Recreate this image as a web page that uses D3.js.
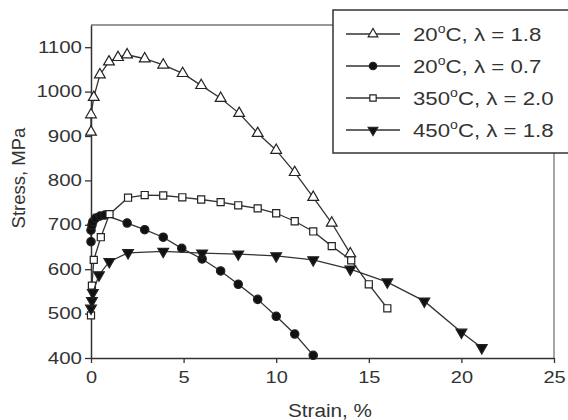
<!DOCTYPE html>
<html>
<head>
<meta charset="utf-8">
<script src="https://cdn.jsdelivr.net/npm/d3@7"></script>
<style>
  body { margin: 0; background: #fff; }
  svg text { font-family: "Liberation Sans", Arial, sans-serif; fill: #333; }
</style>
</head>
<body>
<div id="chart"></div>
<script>
// data
const xTicks = [0, 5, 10, 15, 20, 25];
const yTicks = [400, 500, 600, 700, 800, 900, 1000, 1100];

const strainA = [0, 0, 0.15, 0.48, 0.97, 1.46, 1.95, 2.9, 3.9, 4.95, 5.95, 7, 8, 9, 10, 11, 12, 13, 14];
const stressA = [909, 948, 987, 1038, 1067, 1077, 1083, 1074, 1060, 1041, 1014, 985, 951, 906, 868, 818, 762, 704, 635];

const strainB = [0, 0, 0.05, 0.1, 0.25, 0.5, 0.75, 1.95, 2.9, 3.9, 4.9, 6, 7, 7.95, 9, 10, 11, 12];
const stressB = [662, 688, 699, 707, 715, 720, 722, 704, 689, 672, 647, 623, 596, 566, 532, 494, 454, 406];

const strainC = [0, 0.05, 0.15, 0.53, 1, 2, 2.9, 3.9, 4.93, 5.95, 7, 7.95, 9, 10, 11, 12, 13, 14.05, 15, 16];
const stressC = [496, 563, 621, 672, 724, 761, 767, 766, 762, 757, 751, 744, 737, 726, 708, 685, 652, 620, 566, 512];

const strainD = [0, 0.05, 0.1, 0.43, 0.99, 2, 3.9, 6, 7.95, 10, 12, 14, 16, 18, 20, 21.1];
const stressD = [512, 529, 547, 587, 617, 637, 640, 636, 634, 630, 621, 600, 571, 528, 458, 423];

const legendLabels = [["20", "C, \u03bb = 1.8"], ["20", "C, \u03bb = 0.7"], ["350", "C, \u03bb = 2.0"], ["450", "C, \u03bb = 1.8"]];

const series = [
  { x: strainA, y: stressA, sym: d3.symbolTriangle, fill: "#fff", size: 50, rot: 0 },
  { x: strainB, y: stressB, sym: d3.symbolCircle, fill: "#111", size: 55, rot: 0 },
  { x: strainC, y: stressC, sym: d3.symbolSquare, fill: "#fff", size: 50, rot: 0 },
  { x: strainD, y: stressD, sym: d3.symbolTriangle, fill: "#111", size: 50, rot: 180 }
];

let dimensions = {
  width: 568,
  height: 420,
  margins: { top: 25, bottom: 62, left: 91, right: 14 }
};
dimensions.containerWidth = dimensions.width - dimensions.margins.left - dimensions.margins.right;
dimensions.containerHeight = dimensions.height - dimensions.margins.top - dimensions.margins.bottom;

const svg = d3.select("#chart")
  .append("svg")
  .attr("width", dimensions.width)
  .attr("height", dimensions.height);

const container = svg.append("g")
  .attr("transform", `translate(${dimensions.margins.left}, ${dimensions.margins.top})`);

const x = d3.scaleLinear().domain([0, 25]).range([0, dimensions.containerWidth]);
const y = d3.scaleLinear().domain([400, 1150]).range([dimensions.containerHeight, 0]);

// the source image is stretched sideways, so glyphs get widened a bit
function stretch(sel, k) {
  sel.each(function() {
    const w = this.getComputedTextLength();
    d3.select(this).attr("textLength", w * k).attr("lengthAdjust", "spacingAndGlyphs");
  });
}

// frame top and right
container.append("path")
  .attr("d", `M0,0H${dimensions.containerWidth}V${dimensions.containerHeight}`)
  .attr("fill", "none")
  .attr("stroke", "#777")
  .attr("stroke-width", 1.3);

// axes
const xAxis = container.append("g")
  .attr("transform", `translate(0, ${dimensions.containerHeight})`)
  .call(d3.axisBottom(x).tickValues(xTicks).tickSize(5).tickSizeOuter(0));
const yAxis = container.append("g")
  .call(d3.axisLeft(y).tickValues(yTicks).tickFormat(d3.format("d")).tickSize(6).tickSizeOuter(0));

[xAxis, yAxis].forEach(a => {
  a.select(".domain").attr("stroke", "#333").attr("stroke-width", 1.5);
  a.selectAll(".tick line").attr("stroke", "#333").attr("stroke-width", 1.3);
  a.selectAll(".tick text").attr("font-size", 16).attr("fill", "#333")
    .style("font-family", '"Liberation Sans", Arial, sans-serif');
});
xAxis.selectAll(".tick text").attr("y", 14);
yAxis.selectAll(".tick text").attr("x", -9);
stretch(xAxis.selectAll(".tick text"), 1.25);
stretch(yAxis.selectAll(".tick text"), 1.28);

// axis titles
const xTitle = svg.append("text")
  .attr("text-anchor", "middle")
  .attr("x", 330)
  .attr("y", 417)
  .attr("font-size", 18)
  .text("Strain, %");
stretch(xTitle, 1.15);

svg.append("text")
  .attr("text-anchor", "middle")
  .attr("transform", "translate(25, 178) rotate(-90)")
  .attr("font-size", 18.5)
  .text("Stress, MPa");

// lines and markers
const line = d3.line().x(d => x(d[0])).y(d => y(d[1]));

series.forEach(s => {
  const pts = s.x.map((v, i) => [v, s.y[i]]);
  container.append("path")
    .datum(pts)
    .attr("d", line)
    .attr("fill", "none")
    .attr("stroke", "#333")
    .attr("stroke-width", 1.3);
  container.selectAll(null)
    .data(pts)
    .join("path")
    .attr("d", d3.symbol().type(s.sym).size(s.size))
    .attr("transform", d => `translate(${x(d[0])}, ${y(d[1])}) rotate(${s.rot})`)
    .attr("fill", s.fill)
    .attr("stroke", "#222")
    .attr("stroke-width", 1.2);
});

// legend
const legend = svg.append("g");
legend.append("rect")
  .attr("x", 333).attr("y", 10)
  .attr("width", 245).attr("height", 143)
  .attr("fill", "#fff")
  .attr("stroke", "#333")
  .attr("stroke-width", 1.5);

const rowY = [34, 66, 98, 130];
series.forEach((s, i) => {
  const g = legend.append("g").attr("transform", `translate(0, ${rowY[i]})`);
  g.append("line")
    .attr("x1", 346).attr("x2", 400)
    .attr("stroke", "#333").attr("stroke-width", 1.3);
  g.append("path")
    .attr("d", d3.symbol().type(s.sym).size(s.size * 0.8))
    .attr("transform", `translate(373, 0) rotate(${s.rot})`)
    .attr("fill", s.fill)
    .attr("stroke", "#222")
    .attr("stroke-width", 1.2);
  const t = g.append("text")
    .attr("x", 413)
    .attr("y", 7)
    .attr("font-size", 19);
  t.append("tspan").text(legendLabels[i][0]);
  t.append("tspan").attr("dy", -8).attr("font-size", 12).text("o");
  t.append("tspan").attr("dy", 8).text(legendLabels[i][1]);
  stretch(t, 1.17);
});
</script>
</body>
</html>
